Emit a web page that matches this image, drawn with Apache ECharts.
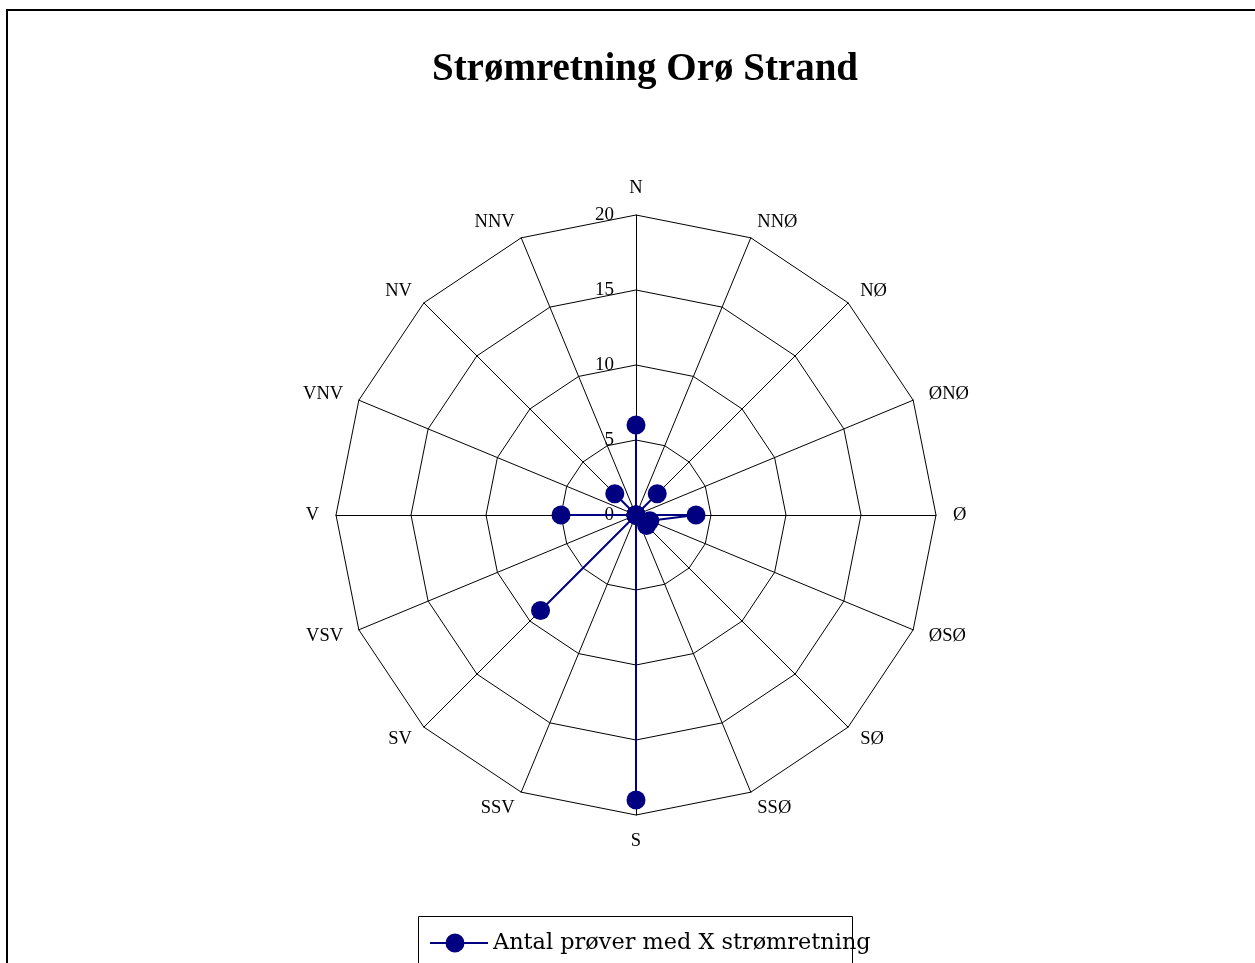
<!DOCTYPE html>
<html>
<head>
<meta charset="utf-8">
<script src="https://cdn.jsdelivr.net/npm/echarts@6/dist/echarts.min.js"></script>
<style>
html,body{margin:0;padding:0;background:#fff;}
#chart{width:1255px;height:963px;}
</style>
</head>
<body>
<div id="chart"></div>
<script>
// Directions, clockwise from north
const directions = ['N','NNØ','NØ','ØNØ','Ø','ØSØ','SØ','SSØ','S','SSV','SV','VSV','V','VNV','NV','NNV'];
// Number of samples per direction (same order)
const counts = [6,0,2,0,4,1,1,0,19,0,9,0,5,0,2,0];
const axisMax = 20;
const seriesName = 'Antal prøver med X strømretning';
const titleText = 'Strømretning Orø Strand';

// ECharts radar places indicators counter-clockwise; reorder to get clockwise layout
const order = [0].concat(directions.map((d,i)=>i).slice(1).reverse());
const indicators = order.map((i, k) => {
  const ind = {name: directions[i], min: 0, max: axisMax};
  if (k === 0) ind.axisLabel = {show: true};
  return ind;
});
const values = order.map(i => counts[i]);

const legendIcon = 'path://M0,8.5 L58,8.5 L58,10.5 L0,10.5 Z M15.5,9.5 A9.5,9.5 0 1 1 34.5,9.5 A9.5,9.5 0 1 1 15.5,9.5 Z';

const chart = echarts.init(document.getElementById('chart'));
chart.setOption({
  backgroundColor: '#fff',
  animation: false,
  title: {
    text: titleText,
    left: 640,
    top: 45,
    textAlign: 'center',
    textStyle: {fontFamily: 'Liberation Serif', fontWeight: 'bold', fontSize: 39, color: '#000'}
  },
  legend: {
    data: [{name: seriesName, icon: legendIcon}],
    left: 425,
    top: 927,
    itemWidth: 58,
    itemHeight: 19,
    itemGap: 4,
    textStyle: {fontFamily: 'DejaVu Serif', fontSize: 22.4, color: '#000'}
  },
  graphic: [
    {type: 'rect', shape: {x: 7, y: 10, width: 1300, height: 1000}, style: {fill: 'none', stroke: '#000', lineWidth: 2}, silent: true, z: -1},
    {type: 'rect', shape: {x: 418.5, y: 916.5, width: 434, height: 60}, style: {fill: 'none', stroke: '#000', lineWidth: 1}, silent: true, z: -1}
  ],
  radar: {
    center: [636, 515],
    radius: 300,
    startAngle: 90,
    shape: 'polygon',
    splitNumber: 4,
    indicator: indicators,
    nameGap: 17,
    axisName: {color: '#000', fontFamily: 'Liberation Serif', fontSize: 18.5},
    axisLine: {show: true, lineStyle: {color: '#000', width: 1}},
    splitLine: {show: true, lineStyle: {color: '#000', width: 1}},
    splitArea: {show: false},
    axisTick: {show: false},
    axisLabel: {show: false, margin: 22, color: '#000', fontFamily: 'Liberation Serif', fontSize: 19}
  },
  series: [{
    name: seriesName,
    type: 'radar',
    symbol: 'circle',
    symbolSize: 19,
    lineStyle: {color: '#000080', width: 2},
    itemStyle: {color: '#000080'},
    data: [{value: values, name: seriesName}]
  }]
});
</script>
</body>
</html>
